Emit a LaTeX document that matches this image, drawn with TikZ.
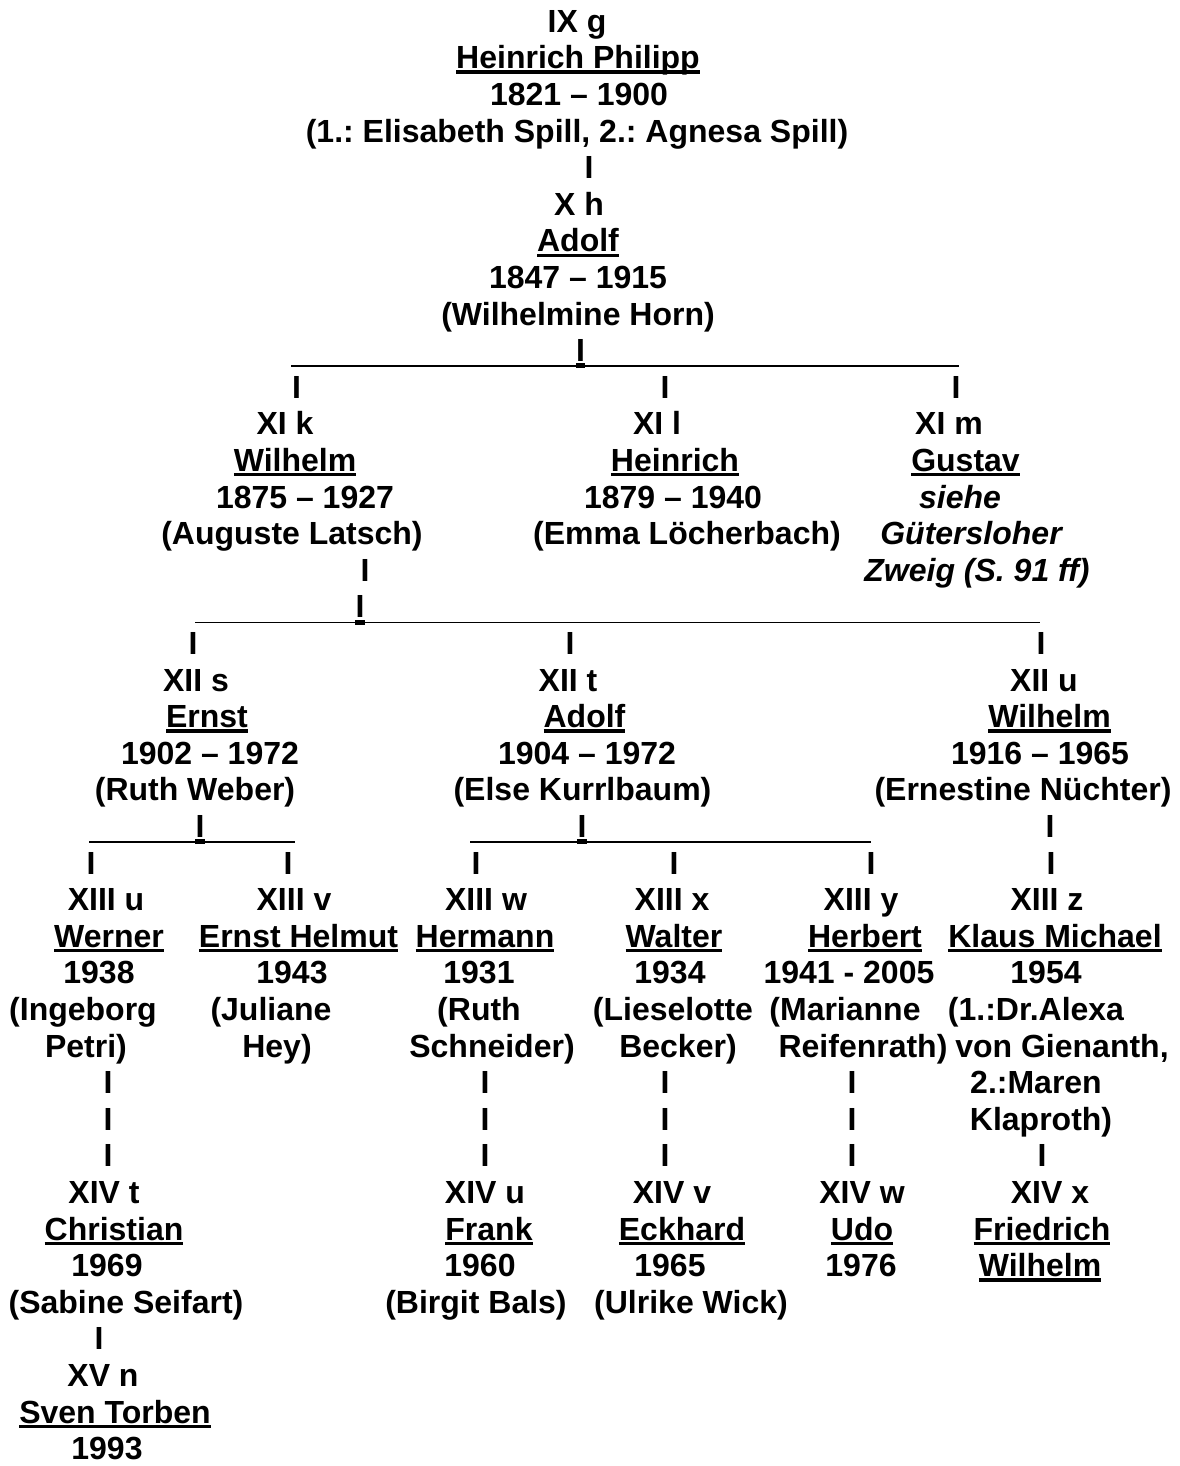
\documentclass[tikz,border=0pt]{standalone}
\usepackage{fontspec}
\setmainfont{Liberation Sans}
\frenchspacing
\newcommand\bigfont{\fontsize{32}{36.6}\selectfont\bfseries}
\newcommand\B[1]{32.3+36.6*#1}
\newsavebox\ulbox
\newcommand\ulx[1]{\sbox\ulbox{#1}\rlap{\rule[-4.8pt]{\wd\ulbox}{3.2pt}}\usebox\ulbox}
\begin{document}
\begin{tikzpicture}[x=1pt,y=-1pt,
  txt/.style={anchor=base,inner sep=0pt,font=\bigfont},
  itx/.style={anchor=base,inner sep=0pt,font=\bigfont\itshape},
  bar/.style={line width=1.8pt},
  junc/.style={fill=black}]
\useasboundingbox[fill=white] (0,0) rectangle (1179,1466);
% ---- generation IX / X
\node[txt] (a0) at (577,{\B{0}}) {IX g};
\node[txt] (a1) at (578,{\B{1}}) {\ulx{Heinrich Philipp}};
\node[txt] (a2) at (579,{\B{2}}) {1821 – 1900};
\node[txt] (a3) at (577,{\B{3}}) {(1.: Elisabeth Spill, 2.: Agnesa Spill)};
\node[txt] (c1) at (589,{\B{4}}) {I};
\node[txt] (b0) at (579,{\B{5}}) {X h};
\node[txt] (b1) at (578,{\B{6}}) {\ulx{Adolf}};
\node[txt] (b2) at (578,{\B{7}}) {1847 – 1915};
\node[txt] (b3) at (578,{\B{8}}) {(Wilhelmine Horn)};
\node[txt] (j1) at (580.5,{\B{9}}) {I};
\coordinate (h1l) at (291,{\B{9}+4.6});
\coordinate (h1r) at (959,{\B{9}+4.6});
\draw[bar] (h1l) -- (h1r);
\fill[junc] ([yshift=-1.7pt]j1.base west) rectangle ([yshift=-6.7pt]j1.base east);
% ---- generation XI
\node[txt] (c2) at (296.5,{\B{10}}) {I};
\node[txt] (c3) at (665,{\B{10}}) {I};
\node[txt] (c4) at (956,{\B{10}}) {I};
\node[txt] (k0) at (285,{\B{11}}) {XI k};
\node[txt] (l0) at (657,{\B{11}}) {XI l};
\node[txt] (m0) at (949,{\B{11}}) {XI m};
\node[txt] (k1) at (295,{\B{12}}) {\ulx{Wilhelm}};
\node[txt] (l1) at (675,{\B{12}}) {\ulx{Heinrich}};
\node[txt] (m1) at (965.5,{\B{12}}) {\ulx{Gustav}};
\node[txt] (k2) at (305,{\B{13}}) {1875 – 1927};
\node[txt] (l2) at (673,{\B{13}}) {1879 – 1940};
\node[itx] (m2) at (960,{\B{13}}) {siehe};
\node[txt] (k3) at (292,{\B{14}}) {(Auguste Latsch)};
\node[txt] (l3) at (687,{\B{14}}) {(Emma Löcherbach)};
\node[itx] (m3) at (971,{\B{14}}) {Gütersloher};
\node[txt] (c5) at (365,{\B{15}}) {I};
\node[itx] (m4) at (977,{\B{15}}) {Zweig (S. 91 ff)};
\node[txt] (j2) at (360,{\B{16}}) {I};
\coordinate (h2l) at (195,{\B{16}+4.6});
\coordinate (h2r) at (1040,{\B{16}+4.6});
\draw[bar] (h2l) -- (h2r);
\fill[junc] ([yshift=-1.7pt]j2.base west) rectangle ([yshift=-6.7pt]j2.base east);
% ---- generation XII
\node[txt] (c6) at (193,{\B{17}}) {I};
\node[txt] (c7) at (570,{\B{17}}) {I};
\node[txt] (c8) at (1041,{\B{17}}) {I};
\node[txt] (s0) at (196,{\B{18}}) {XII s};
\node[txt] (t0) at (568,{\B{18}}) {XII t};
\node[txt] (u0) at (1044,{\B{18}}) {XII u};
\node[txt] (s1) at (207,{\B{19}}) {\ulx{Ernst}};
\node[txt] (t1) at (584.5,{\B{19}}) {\ulx{Adolf}};
\node[txt] (u1) at (1049.5,{\B{19}}) {\ulx{Wilhelm}};
\node[txt] (s2) at (210,{\B{20}}) {1902 – 1972};
\node[txt] (t2) at (587,{\B{20}}) {1904 – 1972};
\node[txt] (u2) at (1040,{\B{20}}) {1916 – 1965};
\node[txt] (s3) at (195,{\B{21}}) {(Ruth Weber)};
\node[txt] (t3) at (582.5,{\B{21}}) {(Else Kurrlbaum)};
\node[txt] (u3) at (1023,{\B{21}}) {(Ernestine Nüchter)};
\node[txt] (j3) at (200,{\B{22}}) {I};
\coordinate (h3l) at (89,{\B{22}+4.6});
\coordinate (h3r) at (295,{\B{22}+4.6});
\draw[bar] (h3l) -- (h3r);
\fill[junc] ([yshift=-1.7pt]j3.base west) rectangle ([yshift=-6.7pt]j3.base east);
\node[txt] (j4) at (582,{\B{22}}) {I};
\coordinate (h4l) at (470,{\B{22}+4.6});
\coordinate (h4r) at (871,{\B{22}+4.6});
\draw[bar] (h4l) -- (h4r);
\fill[junc] ([yshift=-1.7pt]j4.base west) rectangle ([yshift=-6.7pt]j4.base east);
\node[txt] (c9) at (1050,{\B{22}}) {I};
% ---- generation XIII
\node[txt] (c10) at (91,{\B{23}}) {I};
\node[txt] (c11) at (288,{\B{23}}) {I};
\node[txt] (c12) at (476,{\B{23}}) {I};
\node[txt] (c13) at (674,{\B{23}}) {I};
\node[txt] (c14) at (871,{\B{23}}) {I};
\node[txt] (c15) at (1051,{\B{23}}) {I};
\node[txt] (p0) at (106,{\B{24}}) {XIII u};
\node[txt] (q0) at (294,{\B{24}}) {XIII v};
\node[txt] (r0) at (486,{\B{24}}) {XIII w};
\node[txt] (v0) at (672,{\B{24}}) {XIII x};
\node[txt] (w0) at (861,{\B{24}}) {XIII y};
\node[txt] (z0) at (1047,{\B{24}}) {XIII z};
\node[txt] (p1) at (109,{\B{25}}) {\ulx{Werner}};
\node[txt] (q1) at (298.5,{\B{25}}) {\ulx{Ernst Helmut}};
\node[txt] (r1) at (485,{\B{25}}) {\ulx{Hermann}};
\node[txt] (v1) at (674,{\B{25}}) {\ulx{Walter}};
\node[txt] (w1) at (865,{\B{25}}) {\ulx{Herbert}};
\node[txt] (z1) at (1055,{\B{25}}) {\ulx{Klaus Michael}};
\node[txt] (p2) at (99,{\B{26}}) {1938};
\node[txt] (q2) at (292,{\B{26}}) {1943};
\node[txt] (r2) at (479,{\B{26}}) {1931};
\node[txt] (v2) at (670,{\B{26}}) {1934};
\node[txt] (w2) at (849,{\B{26}}) {1941 - 2005};
\node[txt] (z2) at (1046,{\B{26}}) {1954};
\node[txt] (p3) at (83,{\B{27}}) {(Ingeborg};
\node[txt] (q3) at (271,{\B{27}}) {(Juliane};
\node[txt] (r3) at (479,{\B{27}}) {(Ruth};
\node[txt] (v3) at (673,{\B{27}}) {(Lieselotte};
\node[txt] (w3) at (845,{\B{27}}) {(Marianne};
\node[txt] (z3) at (1036,{\B{27}}) {(1.:Dr.Alexa};
\node[txt] (p4) at (86,{\B{28}}) {Petri)};
\node[txt] (q4) at (277,{\B{28}}) {Hey)};
\node[txt] (r4) at (492,{\B{28}}) {Schneider)};
\node[txt] (v4) at (678,{\B{28}}) {Becker)};
\node[txt] (w4) at (863,{\B{28}}) {Reifenrath)};
\node[txt] (z4) at (1062,{\B{28}}) {von Gienanth,};
\node[txt] (c16) at (108,{\B{29}}) {I};
\node[txt] (c17) at (485,{\B{29}}) {I};
\node[txt] (c18) at (665,{\B{29}}) {I};
\node[txt] (c19) at (852,{\B{29}}) {I};
\node[txt] (z5) at (1036,{\B{29}}) {2.:Maren};
\node[txt] (c20) at (108,{\B{30}}) {I};
\node[txt] (c21) at (485,{\B{30}}) {I};
\node[txt] (c22) at (665,{\B{30}}) {I};
\node[txt] (c23) at (852,{\B{30}}) {I};
\node[txt] (z6) at (1041,{\B{30}}) {Klaproth)};
\node[txt] (c24) at (108,{\B{31}}) {I};
\node[txt] (c25) at (485,{\B{31}}) {I};
\node[txt] (c26) at (665,{\B{31}}) {I};
\node[txt] (c27) at (852,{\B{31}}) {I};
\node[txt] (c28) at (1042,{\B{31}}) {I};
% ---- generation XIV
\node[txt] (e0) at (104,{\B{32}}) {XIV t};
\node[txt] (f0) at (485,{\B{32}}) {XIV u};
\node[txt] (g0) at (672,{\B{32}}) {XIV v};
\node[txt] (o0) at (862,{\B{32}}) {XIV w};
\node[txt] (x0) at (1050,{\B{32}}) {XIV x};
\node[txt] (e1) at (114,{\B{33}}) {\ulx{Christian}};
\node[txt] (f1) at (489,{\B{33}}) {\ulx{Frank}};
\node[txt] (g1) at (682,{\B{33}}) {\ulx{Eckhard}};
\node[txt] (o1) at (862,{\B{33}}) {\ulx{Udo}};
\node[txt] (x1) at (1042,{\B{33}}) {\ulx{Friedrich}};
\node[txt] (e2) at (107,{\B{34}}) {1969};
\node[txt] (f2) at (480,{\B{34}}) {1960};
\node[txt] (g2) at (670,{\B{34}}) {1965};
\node[txt] (o2) at (861,{\B{34}}) {1976};
\node[txt] (x2) at (1040,{\B{34}}) {\ulx{Wilhelm}};
\node[txt] (e3) at (126,{\B{35}}) {(Sabine Seifart)};
\node[txt] (f3) at (476,{\B{35}}) {(Birgit Bals)};
\node[txt] (g3) at (691,{\B{35}}) {(Ulrike Wick)};
\node[txt] (c29) at (99,{\B{36}}) {I};
% ---- generation XV
\node[txt] (n0) at (103,{\B{37}}) {XV n};
\node[txt] (n1) at (115,{\B{38}}) {\ulx{Sven Torben}};
\node[txt] (n2) at (107,{\B{39}}) {1993};
\end{tikzpicture}
\end{document}
